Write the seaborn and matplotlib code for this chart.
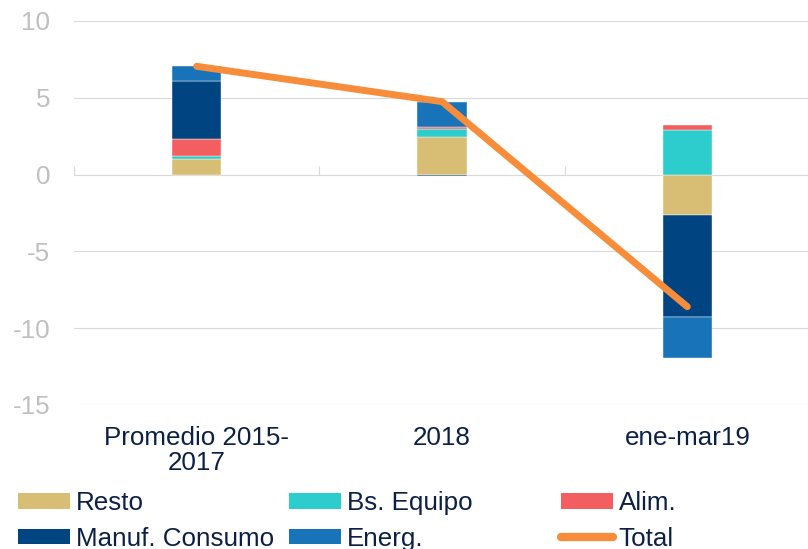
import numpy as np
import matplotlib
matplotlib.use("Agg")
import matplotlib.pyplot as plt
import seaborn as sns
from matplotlib.patches import Patch
from matplotlib.lines import Line2D

# ---- data ----
categories = ["Promedio 2015-\n2017", "2018", "ene-mar19"]
resto = [1.0, 2.45, -2.6]
bs_equipo = [0.24, 0.52, 2.9]
alim = [1.1, 0.13, 0.35]
manuf = [3.78, -0.1, -6.66]
energ = [0.98, 1.63, -2.7]
total = [7.05, 4.75, -8.6]
yticks = [-15, -10, -5, 0, 5, 10]

series_names = ["Resto", "Bs. Equipo", "Alim.", "Manuf. Consumo", "Energ."]
series_vals = [resto, bs_equipo, alim, manuf, energ]
colors = {"Resto": "#D8BE75", "Bs. Equipo": "#2DCCCD", "Alim.": "#F35E61",
          "Manuf. Consumo": "#004481", "Energ.": "#1973B8", "Total": "#F78D3B"}

sns.set_theme(style="white")
plt.rcParams["font.family"] = ["Liberation Sans", "DejaVu Sans"]

fig = plt.figure(figsize=(8.08, 5.49), dpi=100)
ax = fig.add_axes([74 / 808, 144 / 549, 736 / 808, 384 / 549])

x = np.arange(len(categories))
pos_base = np.zeros(len(categories))
neg_base = np.zeros(len(categories))
for name, vals in zip(series_names, series_vals):
    v = np.array(vals, dtype=float)
    bottoms = np.where(v >= 0, pos_base, neg_base)
    ax.bar(x, v, width=0.2, bottom=bottoms, color=colors[name],
           edgecolor="white", linewidth=0.3, zorder=2)
    pos_base = pos_base + np.where(v >= 0, v, 0)
    neg_base = neg_base + np.where(v < 0, v, 0)

sns.lineplot(x=x, y=total, ax=ax, color=colors["Total"], linewidth=5,
             solid_capstyle="round", solid_joinstyle="miter", zorder=3, legend=False)

ax.set_xlim(-0.5, 2.5)
ax.set_ylim(-15, 10)
ax.set_yticks(yticks)
ax.set_yticklabels([str(t) for t in yticks])
ax.set_xticks(x)
ax.set_xticklabels(categories, linespacing=1.05)
ax.tick_params(axis="y", length=0, pad=17, labelsize=18.7, labelcolor="#BFBFBF")
ax.tick_params(axis="x", length=0, pad=15, labelsize=18.7, labelcolor="#0C2045")
for s in ax.spines.values():
    s.set_visible(False)
ax.yaxis.grid(True, color="#D9D9D9", linewidth=0.8, zorder=0)
ax.xaxis.grid(False)
ax.set_axisbelow(True)
ax.set_xlabel("")
ax.set_ylabel("")

# zero axis with category boundary ticks
sec = ax.secondary_xaxis(15 / 25)
sec.set_xticks([-0.5, 0.5, 1.5, 2.5])
sec.set_xticklabels([])
sec.tick_params(axis="x", direction="out", length=6.5, width=0.8, color="#D9D9D9")
sec.spines["bottom"].set_color("#D9D9D9")
sec.spines["bottom"].set_linewidth(0.8)
for k in ["top", "left", "right"]:
    if k in sec.spines:
        sec.spines[k].set_visible(False)

# legends (three columns)
def patch(n):
    return Patch(facecolor=colors[n], edgecolor="none", label=n)

cols = [
    ([patch("Resto"), patch("Manuf. Consumo")], 18),
    ([patch("Bs. Equipo"), patch("Energ.")], 289),
    ([patch("Alim."), Line2D([0], [0], color=colors["Total"], linewidth=6,
                             solid_capstyle="round", label="Total")], 561),
]
for handles, xpx in cols:
    leg = fig.legend(handles=handles, loc="upper left",
                     bbox_to_anchor=(xpx / 808, (549 - 491) / 549),
                     frameon=False, fontsize=18.7, handlelength=2.0,
                     handleheight=0.55, handletextpad=0.22, labelspacing=0.45,
                     borderpad=0, borderaxespad=0)
    for t in leg.get_texts():
        t.set_color("#0C2045")

fig.savefig("out.png", dpi=100)
